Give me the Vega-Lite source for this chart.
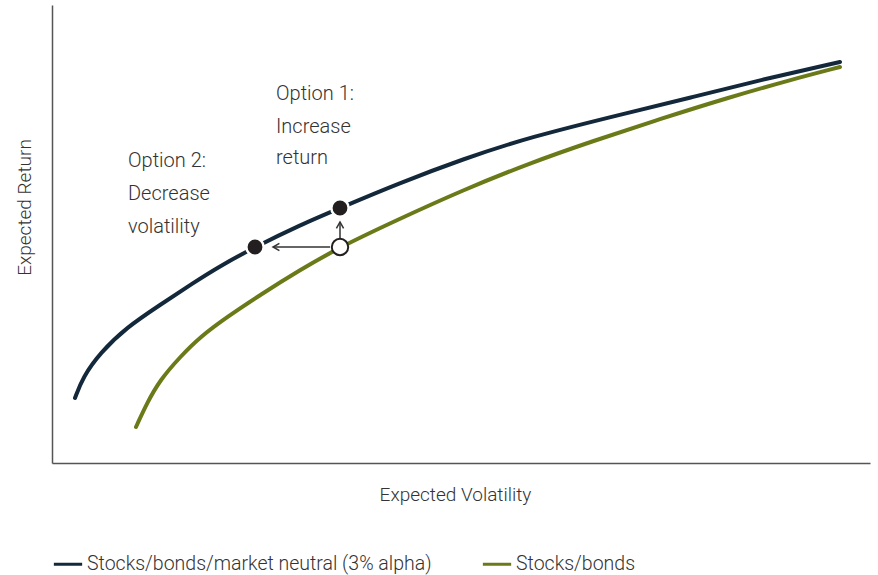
{
  "$schema": "https://vega.github.io/schema/vega-lite/v6.json",
  "width": 818,
  "height": 458,
  "autosize": "none",
  "padding": {"left": 52, "top": 5, "right": 8, "bottom": 112},
  "background": "white",
  "config": {
    "view": {"stroke": null},
    "font": "Roboto",
    "text": {"font": "Roboto", "fontWeight": 300}
  },
  "datasets": {
    "curves": [
      {"series": "Stocks/bonds/market neutral (3% alpha)", "vol": 23, "ret": 65},
      {"series": "Stocks/bonds/market neutral (3% alpha)", "vol": 31, "ret": 86},
      {"series": "Stocks/bonds/market neutral (3% alpha)", "vol": 48, "ret": 110},
      {"series": "Stocks/bonds/market neutral (3% alpha)", "vol": 75, "ret": 136},
      {"series": "Stocks/bonds/market neutral (3% alpha)", "vol": 108, "ret": 158},
      {"series": "Stocks/bonds/market neutral (3% alpha)", "vol": 141, "ret": 180},
      {"series": "Stocks/bonds/market neutral (3% alpha)", "vol": 168, "ret": 197},
      {"series": "Stocks/bonds/market neutral (3% alpha)", "vol": 203, "ret": 216},
      {"series": "Stocks/bonds/market neutral (3% alpha)", "vol": 248, "ret": 238},
      {"series": "Stocks/bonds/market neutral (3% alpha)", "vol": 288, "ret": 255},
      {"series": "Stocks/bonds/market neutral (3% alpha)", "vol": 345, "ret": 279},
      {"series": "Stocks/bonds/market neutral (3% alpha)", "vol": 411, "ret": 304},
      {"series": "Stocks/bonds/market neutral (3% alpha)", "vol": 478, "ret": 326},
      {"series": "Stocks/bonds/market neutral (3% alpha)", "vol": 575, "ret": 350},
      {"series": "Stocks/bonds/market neutral (3% alpha)", "vol": 641, "ret": 366},
      {"series": "Stocks/bonds/market neutral (3% alpha)", "vol": 708, "ret": 383},
      {"series": "Stocks/bonds/market neutral (3% alpha)", "vol": 788, "ret": 401},
      {"series": "Stocks/bonds", "vol": 84, "ret": 36},
      {"series": "Stocks/bonds", "vol": 95, "ret": 60},
      {"series": "Stocks/bonds", "vol": 108, "ret": 83},
      {"series": "Stocks/bonds", "vol": 128, "ret": 106},
      {"series": "Stocks/bonds", "vol": 148, "ret": 126},
      {"series": "Stocks/bonds", "vol": 175, "ret": 146},
      {"series": "Stocks/bonds", "vol": 208, "ret": 168},
      {"series": "Stocks/bonds", "vol": 248, "ret": 193},
      {"series": "Stocks/bonds", "vol": 288, "ret": 216},
      {"series": "Stocks/bonds", "vol": 345, "ret": 243},
      {"series": "Stocks/bonds", "vol": 411, "ret": 273},
      {"series": "Stocks/bonds", "vol": 478, "ret": 300},
      {"series": "Stocks/bonds", "vol": 541, "ret": 322},
      {"series": "Stocks/bonds", "vol": 608, "ret": 344},
      {"series": "Stocks/bonds", "vol": 675, "ret": 365},
      {"series": "Stocks/bonds", "vol": 738, "ret": 383},
      {"series": "Stocks/bonds", "vol": 788, "ret": 396}
    ],
    "arrows": [
      {"vol": 221, "ret": 216, "vol2": 278, "ret2": 216},
      {"vol": 288, "ret": 241, "vol2": 288, "ret2": 225}
    ],
    "heads": [
      {"dir": "left", "vol": 221, "ret": 216},
      {"dir": "up", "vol": 288, "ret": 241}
    ],
    "points": [
      {"kind": "filled", "vol": 203, "ret": 216},
      {"kind": "filled", "vol": 288, "ret": 255},
      {"kind": "open", "vol": 288, "ret": 216}
    ],
    "labels": [
      {"label": "Option 1:", "vol": 224, "ret": 369},
      {"label": "Increase", "vol": 224, "ret": 336},
      {"label": "return", "vol": 224, "ret": 305},
      {"label": "Option 2:", "vol": 76, "ret": 302},
      {"label": "Decrease", "vol": 76, "ret": 269},
      {"label": "volatility", "vol": 76, "ret": 236}
    ]
  },
  "layer": [
    {
      "data": {"name": "curves"},
      "mark": {"type": "line", "strokeWidth": 4, "strokeCap": "round", "interpolate": "basis"},
      "encoding": {
        "x": {"field": "vol", "type": "quantitative", "scale": {"domain": [0, 818], "nice": false, "zero": false},
          "axis": {"title": "Expected Volatility", "labels": false, "ticks": false, "grid": false, "domainColor": "#555555", "domainWidth": 1.5,
            "titleFont": "Roboto", "titleFontWeight": 300, "titleFontSize": 19, "titleColor": "#333333",
            "titleX": 403, "titleY": 31, "titleBaseline": "middle", "titleAlign": "center"}},
        "y": {"field": "ret", "type": "quantitative", "scale": {"domain": [0, 458], "nice": false, "zero": false},
          "axis": {"title": "Expected Return", "labels": false, "ticks": false, "grid": false, "domainColor": "#555555", "domainWidth": 1.5,
            "titleFont": "Roboto", "titleFontWeight": 300, "titleFontSize": 19, "titleColor": "#333333",
            "titleX": -28, "titleY": 202, "titleAngle": -90, "titleBaseline": "middle", "titleAlign": "center"}},
        "color": {"field": "series", "type": "nominal",
          "scale": {"domain": ["Stocks/bonds/market neutral (3% alpha)", "Stocks/bonds"], "range": ["#13283a", "#6b7a18"]},
          "legend": {"title": null, "orient": "none", "direction": "horizontal", "legendX": 0, "legendY": 543,
            "symbolType": "stroke", "symbolStrokeWidth": 3, "symbolSize": 800, "labelFont": "Roboto", "labelFontWeight": 300,
            "labelFontSize": 19.5, "labelColor": "#333333", "labelLimit": 500, "labelOffset": 3, "columnPadding": 44}}
      }
    },
    {
      "data": {"name": "arrows"},
      "mark": {"type": "rule", "color": "#333333", "strokeWidth": 1.5},
      "encoding": {
        "x": {"field": "vol", "type": "quantitative", "scale": {"domain": [0, 818], "nice": false, "zero": false}},
        "y": {"field": "ret", "type": "quantitative", "scale": {"domain": [0, 458], "nice": false, "zero": false}},
        "x2": {"field": "vol2"},
        "y2": {"field": "ret2"}
      }
    },
    {
      "data": {"name": "heads"},
      "transform": [{"filter": "datum.dir == 'left'"}],
      "mark": {"type": "point", "shape": "M1.6,-0.9L0,0L1.6,0.9", "filled": false, "stroke": "#333333", "strokeWidth": 1.5, "size": 64, "opacity": 1},
      "encoding": {
        "x": {"field": "vol", "type": "quantitative", "scale": {"domain": [0, 818], "nice": false, "zero": false}},
        "y": {"field": "ret", "type": "quantitative", "scale": {"domain": [0, 458], "nice": false, "zero": false}}
      }
    },
    {
      "data": {"name": "heads"},
      "transform": [{"filter": "datum.dir == 'up'"}],
      "mark": {"type": "point", "shape": "M-0.9,1.6L0,0L0.9,1.6", "filled": false, "stroke": "#333333", "strokeWidth": 1.5, "size": 64, "opacity": 1},
      "encoding": {
        "x": {"field": "vol", "type": "quantitative", "scale": {"domain": [0, 818], "nice": false, "zero": false}},
        "y": {"field": "ret", "type": "quantitative", "scale": {"domain": [0, 458], "nice": false, "zero": false}}
      }
    },
    {
      "data": {"name": "points"},
      "transform": [{"filter": "datum.kind == 'filled'"}],
      "mark": {"type": "point", "shape": "circle", "filled": true, "fill": "#231f20", "stroke": "white", "strokeWidth": 2.5, "size": 300, "opacity": 1},
      "encoding": {
        "x": {"field": "vol", "type": "quantitative", "scale": {"domain": [0, 818], "nice": false, "zero": false}},
        "y": {"field": "ret", "type": "quantitative", "scale": {"domain": [0, 458], "nice": false, "zero": false}}
      }
    },
    {
      "data": {"name": "points"},
      "transform": [{"filter": "datum.kind == 'open'"}],
      "mark": {"type": "point", "shape": "circle", "filled": true, "fill": "white", "stroke": "#231f20", "strokeWidth": 2, "size": 270, "opacity": 1},
      "encoding": {
        "x": {"field": "vol", "type": "quantitative", "scale": {"domain": [0, 818], "nice": false, "zero": false}},
        "y": {"field": "ret", "type": "quantitative", "scale": {"domain": [0, 458], "nice": false, "zero": false}}
      }
    },
    {
      "data": {"name": "labels"},
      "mark": {"type": "text", "align": "left", "baseline": "middle", "fontSize": 20, "font": "Roboto", "fontWeight": 300, "color": "#333333"},
      "encoding": {
        "x": {"field": "vol", "type": "quantitative", "scale": {"domain": [0, 818], "nice": false, "zero": false}},
        "y": {"field": "ret", "type": "quantitative", "scale": {"domain": [0, 458], "nice": false, "zero": false}},
        "text": {"field": "label"}
      }
    }
  ]
}
